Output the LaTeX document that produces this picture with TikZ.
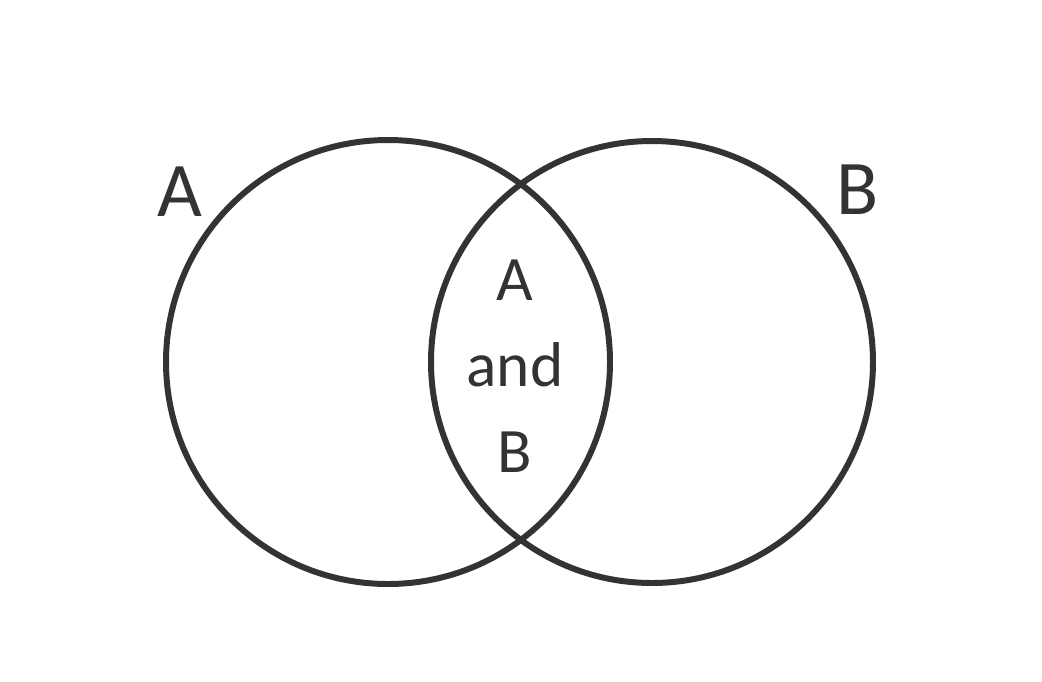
\documentclass[tikz,border=0pt]{standalone}
\usepackage{fontspec}
\setmainfont{Carlito}
\definecolor{ink}{HTML}{333333}
\begin{document}
\begin{tikzpicture}[x=0.01cm, y=-0.01cm,
				set/.style={draw=ink, line width=1.7pt},
				lbl/.style={text=ink, font=\fontsize{22}{26}\selectfont, inner sep=0pt},
				mid/.style={text=ink, font=\fontsize{18}{24.5}\selectfont, align=center, inner sep=0pt},
			]
			\path[use as bounding box] (0,0) rectangle (1042,681);
			\draw[set] (388,362) circle (222);
			\draw[set] (652,362) circle (221);
			\node[lbl] (labA) at (180,192) {A};
			\node[lbl] (labB) at (858,190) {B};
			\node[mid] (both) at (515,366) {A\\and\\B};
		\end{tikzpicture}
\end{document}
